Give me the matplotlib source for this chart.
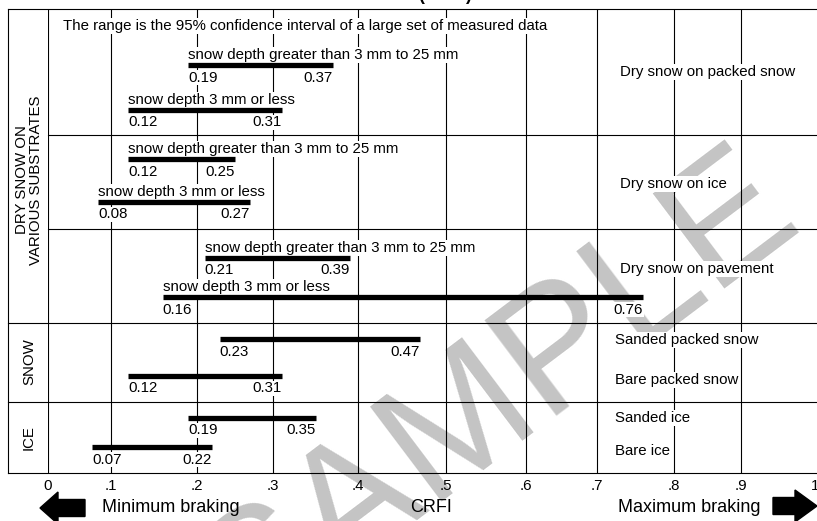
import numpy as np
import matplotlib
matplotlib.use("Agg")
import matplotlib.pyplot as plt
from matplotlib.patches import FancyArrow

plt.rcParams['font.family'] = ['Liberation Sans', 'DejaVu Sans']

# ---------------- data ----------------
dry_surfaces = ["Dry snow on packed snow", "Dry snow on ice", "Dry snow on pavement"]
depth_labels = ["snow depth greater than 3 mm to 25 mm", "snow depth 3 mm or less"]
dry_low = [[0.19, 0.12], [0.12, 0.08], [0.21, 0.16]]
dry_high = [[0.37, 0.31], [0.25, 0.27], [0.39, 0.76]]

other_surfaces = ["Sanded packed snow", "Bare packed snow", "Sanded ice", "Bare ice"]
other_low = [0.23, 0.12, 0.19, 0.07]
other_high = [0.47, 0.31, 0.35, 0.22]

group_labels = ["DRY SNOW ON\nVARIOUS SUBSTRATES", "SNOW", "ICE"]
x_ticks = [0, .1, .2, .3, .4, .5, .6, .7, .8, .9, 1.0]
x_ticklabels = ["0", ".1", ".2", ".3", ".4", ".5", ".6", ".7", ".8", ".9", "1"]
note = "The range is the 95% confidence interval of a large set of measured data"
x_title = "CRFI"
left_hint = "Minimum braking"
right_hint = "Maximum braking"
watermark = "SAMPLE"

# ---------------- layout (pixels) ----------------
W, H = 817, 521
TOP, BOT = 9, 473
LEFT_OUT, LEFT_IN = 8, 48
TICK_PX = [48, 111, 197, 273, 358, 446, 526, 597, 674, 741, 815]
dry_bar_y = [[65, 110], [159, 202], [258, 297]]
dry_label_y = [72, 184, 269]
other_bar_y = [339, 376, 418, 447]
other_label_y = [340, 380, 418, 451]
sep_inner = [135, 229]
sep_outer = [323, 402]
group_pos = [(29, 180), (29, 362), (29, 438)]
FS = 10.8
BAR_LW = 3.8
LINE_LW = 0.8

fig = plt.figure(figsize=(W / 100, H / 100), dpi=100)
fig.patch.set_facecolor('white')

# background overlay in pixel coordinates
bg = fig.add_axes([0, 0, 1, 1], zorder=0)
bg.set_xlim(0, W)
bg.set_ylim(H, 0)
bg.axis('off')

# main axes (data)
ax = fig.add_axes([LEFT_IN / W, (H - BOT) / H, (W - LEFT_IN) / W, (BOT - TOP) / H], zorder=1)
ax.patch.set_alpha(0)

ext_v = np.r_[-1.0, x_ticks, 2.0]
ext_p = np.r_[TICK_PX[0] - 10 * (TICK_PX[1] - TICK_PX[0]), TICK_PX,
              TICK_PX[-1] + 10 * (TICK_PX[-1] - TICK_PX[-2])]


def fwd(v):
    return np.interp(v, ext_v, ext_p)


def inv(p):
    return np.interp(p, ext_p, ext_v)


ax.set_xscale('function', functions=(fwd, inv))
ax.set_xlim(0, float(inv(W)))
ax.set_ylim(BOT, TOP)
for s in ax.spines.values():
    s.set_visible(False)
ax.set_yticks([])
ax.set_xticks(x_ticks, x_ticklabels, fontsize=FS)
ax.tick_params(axis='x', length=0, pad=4)

# watermark
bg.text(498, 398, watermark, fontsize=124, color='#c4c4c4', rotation=37,
        ha='center', va='center', rotation_mode='anchor', zorder=0)

# frame lines
lk = dict(color='black', lw=LINE_LW, zorder=2)
bg.plot([LEFT_OUT, W], [TOP, TOP], **lk)
bg.plot([LEFT_OUT, W], [BOT, BOT], **lk)
bg.plot([LEFT_OUT, LEFT_OUT], [TOP, BOT], **lk)
for y in sep_inner:
    bg.plot([LEFT_IN, W], [y, y], **lk)
for y in sep_outer:
    bg.plot([LEFT_OUT, W], [y, y], **lk)

# gridlines
for t in x_ticks[:-1]:
    ax.axvline(t, color='black', lw=LINE_LW, zorder=1)

tb = dict(facecolor='white', edgecolor='none', pad=0.6)

# note
ax.text(0.024, 26, note, fontsize=FS, ha='left', va='center', bbox=tb, zorder=3)


def draw_bar(lo, hi, y, label=None):
    ax.hlines(y, lo, hi, colors='black', lw=BAR_LW, capstyle='butt', zorder=4)
    ax.text(lo, y + 12.5, f"{lo:.2f}", fontsize=FS, ha='left', va='center', bbox=tb, zorder=3)
    ax.text(hi, y + 12.5, f"{hi:.2f}", fontsize=FS, ha='right', va='center', bbox=tb, zorder=3)
    if label:
        ax.text(lo, y - 10, label, fontsize=FS, ha='left', va='center', bbox=tb, zorder=3)


for gi, name in enumerate(dry_surfaces):
    for di in range(2):
        draw_bar(dry_low[gi][di], dry_high[gi][di], dry_bar_y[gi][di], depth_labels[di])
    ax.text(0.7 + (620 - 597) / (674 - 597) * 0.1, dry_label_y[gi], name, fontsize=FS,
            ha='left', va='center', bbox=tb, zorder=3)

for i, name in enumerate(other_surfaces):
    draw_bar(other_low[i], other_high[i], other_bar_y[i])
    ax.text(0.7 + (615 - 597) / (674 - 597) * 0.1, other_label_y[i], name, fontsize=FS,
            ha='left', va='center', bbox=tb, zorder=3)

# group labels
for (gx, gy), g in zip(group_pos, group_labels):
    bg.text(gx, gy, g, fontsize=FS, rotation=90, ha='center', va='center',
            multialignment='center', linespacing=1.0, zorder=3)

# bottom texts
bg.text(102, 508, left_hint, fontsize=13, ha='left', va='center')
bg.text(431, 508, x_title, fontsize=13, ha='center', va='center')
bg.text(689, 508, right_hint, fontsize=13, ha='center', va='center')

# arrows
bg.add_patch(FancyArrow(85, 508, -27, 0, width=17, head_width=32, head_length=18,
                        length_includes_head=False, color='black', zorder=3))
bg.add_patch(FancyArrow(773, 506, 22, 0, width=17, head_width=32, head_length=22,
                        length_includes_head=False, color='black', zorder=3))

# cut-off title at top
bg.text(445, -0.5, "(CRFI)", fontsize=13, fontweight='bold', ha='center', va='baseline')

fig.savefig("out.png", dpi=100)
